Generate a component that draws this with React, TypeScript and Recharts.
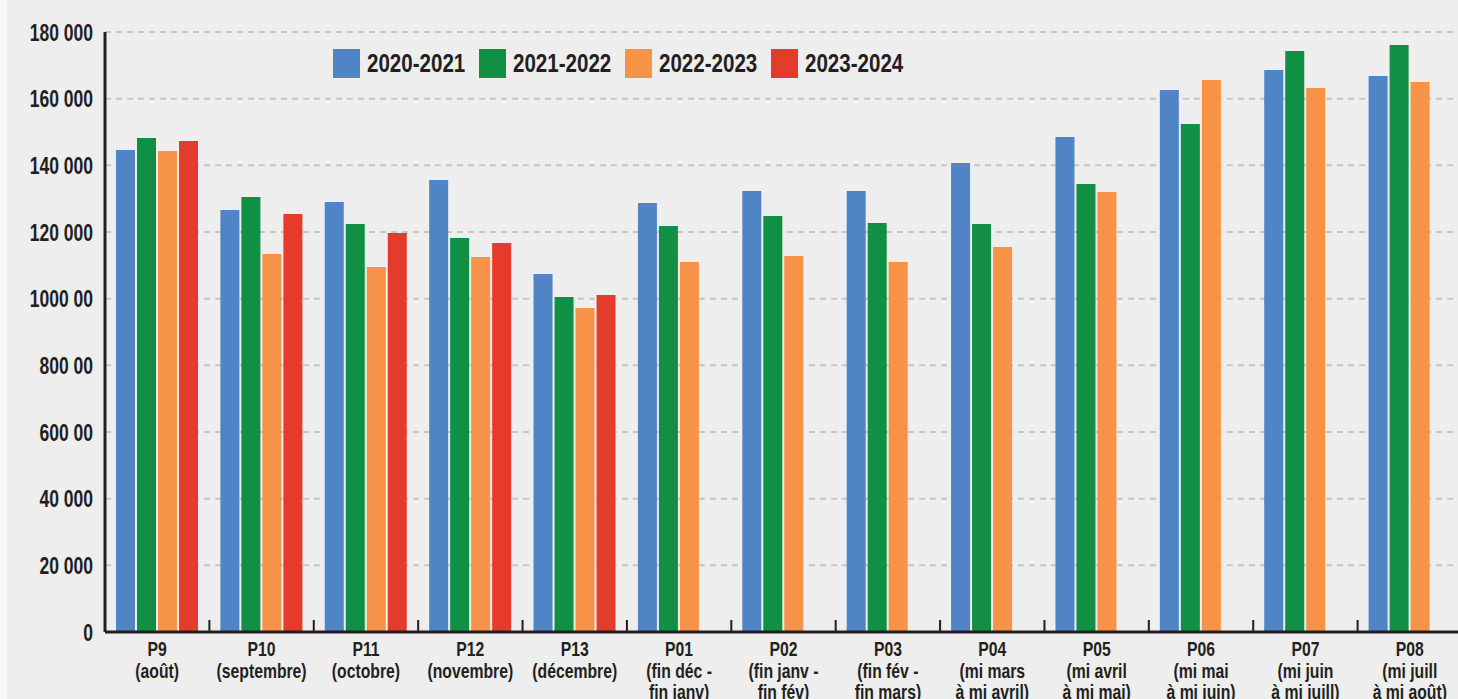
import React from "react";
import { BarChart, Bar, XAxis, YAxis, CartesianGrid, Legend } from "recharts";

const categories = ["P9", "P10", "P11", "P12", "P13", "P01", "P02", "P03", "P04", "P05", "P06", "P07", "P08"];
const subLabels: string[][] = [
  ["(août)"],
  ["(septembre)"],
  ["(octobre)"],
  ["(novembre)"],
  ["(décembre)"],
  ["(fin déc -", "fin janv)"],
  ["(fin janv -", "fin fév)"],
  ["(fin fév -", "fin mars)"],
  ["(mi mars", "à mi avril)"],
  ["(mi avril", "à mi mai)"],
  ["(mi mai", "à mi juin)"],
  ["(mi juin", "à mi juill)"],
  ["(mi juill", "à mi août)"],
];

const s2020: (number | null)[] = [144600, 126600, 129000, 135600, 107400, 128700, 132300, 132300, 140700, 148500, 162600, 168600, 166800];
const s2021: (number | null)[] = [148200, 130500, 122400, 118200, 100500, 121800, 124800, 122700, 122400, 134400, 152400, 174300, 176100];
const s2022: (number | null)[] = [144300, 113400, 109500, 112500, 97200, 111000, 112800, 111000, 115500, 132000, 165600, 163200, 165000];
const s2023: (number | null)[] = [147300, 125400, 119700, 116700, 101100, null, null, null, null, null, null, null, null];

const seriesNames = ["2020-2021", "2021-2022", "2022-2023", "2023-2024"];
const seriesKeys = ["a", "b", "c", "d"];
const seriesColors = ["#4f84c5", "#118f45", "#f79348", "#e33c2b"];

const yTicks = [0, 20000, 40000, 60000, 80000, 100000, 120000, 140000, 160000, 180000];
const yTickLabels = ["0", "20 000", "40 000", "600 00", "800 00", "1000 00", "120 000", "140 000", "160 000", "180 000"];

const data = categories.map((c, i) => ({
  name: c,
  a: s2020[i],
  b: s2021[i],
  c: s2022[i],
  d: s2023[i],
}));

const FONT = "'Liberation Sans', Arial, sans-serif";
const TEXT = "#231f20";

const YTick = (props: any) => {
  const { x, y, payload } = props;
  const idx = yTicks.indexOf(payload.value);
  return (
    <g transform={`translate(${x},${y}) scale(0.73,1)`}>
      <text x={0} y={0} dy={8.5} textAnchor="end" fontFamily={FONT} fontWeight={700} fontSize={24} fill={TEXT}>
        {idx >= 0 ? yTickLabels[idx] : payload.value}
      </text>
    </g>
  );
};

const XTick = (props: any) => {
  const { x, y, payload, index } = props;
  const i = categories.indexOf(payload.value);
  const off = payload.offset ?? 0;
  const lines = [payload.value, ...(i >= 0 ? subLabels[i] : [])];
  return (
    <g>
      {index > 0 && off > 0 ? (
        <line x1={x - off} x2={x - off} y1={y - 12} y2={y} stroke={TEXT} strokeWidth={2} />
      ) : null}
      {lines.map((l, k) => (
        <g key={k} transform={`translate(${x},${y + 24 + k * 21.5}) scale(0.75,1)`}>
          <text x={0} y={0} textAnchor="middle" fontFamily={FONT} fontWeight={700} fontSize={21} fill={TEXT}>
            {l}
          </text>
        </g>
      ))}
    </g>
  );
};

const LegendContent = () => (
  <div style={{ display: "flex", alignItems: "center", fontFamily: FONT, fontWeight: 700, fontSize: 26, color: TEXT, whiteSpace: "nowrap" }}>
    {seriesNames.map((n, i) => (
      <div key={n} style={{ display: "flex", alignItems: "center", width: 146 }}>
        <div style={{ width: 27, height: 29, background: seriesColors[i], marginRight: 7, flex: "none" }} />
        <span style={{ display: "inline-block", transform: "scaleX(0.79)", transformOrigin: "left center", lineHeight: "29px" }}>{n}</span>
      </div>
    ))}
  </div>
);

export default function App() {
  return (
    <div style={{ position: "absolute", left: 0, top: 0, width: 1458, height: 699, overflow: "hidden", background: "#f8f8f8" }}>
      <div style={{ position: "absolute", left: 7, top: 0, width: 1451, height: 699, background: "#eeeeee" }} />
      <div style={{ position: "absolute", left: 0, top: 0 }}>
        <BarChart
          width={1462}
          height={699}
          data={data}
          margin={{ top: 32, right: 0, bottom: 0, left: 0 }}
          barCategoryGap={11}
          barGap={2}
        >
          <CartesianGrid vertical={false} stroke="#c6c6c6" strokeWidth={2} strokeDasharray="6 5" />
          <XAxis
            dataKey="name"
            height={67}
            tickLine={false}
            tickSize={0}
            tickMargin={0}
            interval={0}
            axisLine={{ stroke: TEXT, strokeWidth: 3 }}
            tick={<XTick />}
          />
          <YAxis
            width={105}
            domain={[0, 180000]}
            ticks={yTicks}
            tickLine={false}
            tickSize={0}
            tickMargin={12}
            interval={0}
            axisLine={{ stroke: TEXT, strokeWidth: 3 }}
            tick={<YTick />}
          />
          <Legend
            layout="horizontal"
            verticalAlign="middle"
            align="center"
            content={<LegendContent />}
            wrapperStyle={{ top: 49, left: 333, width: "auto", height: "auto" }}
          />
          {seriesKeys.map((k, i) => (
            <Bar key={k} dataKey={k} name={seriesNames[i]} fill={seriesColors[i]} isAnimationActive={false} />
          ))}
        </BarChart>
      </div>
    </div>
  );
}
